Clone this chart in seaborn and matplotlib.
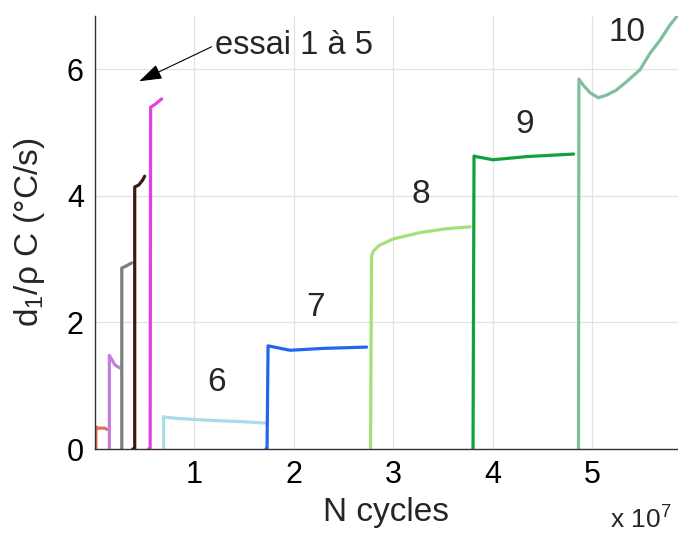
import matplotlib
matplotlib.use("Agg")
import matplotlib.pyplot as plt
import seaborn as sns
import pandas as pd

sns.set_theme(style="white")
plt.rcParams['font.family'] = ['Liberation Sans', 'DejaVu Sans']
plt.rcParams['mathtext.fontset'] = 'custom'
plt.rcParams['mathtext.rm'] = 'Liberation Sans'
plt.rcParams['mathtext.it'] = 'Liberation Sans'

# N cycles (x 1e7) and d1/rhoC (°C/s) per trial
x1 = [0.01, 0.01, 0.03, 0.10, 0.12]
y1 = [0.00, 0.35, 0.33, 0.33, 0.31]
x2 = [0.145, 0.145, 0.16, 0.20, 0.25]
y2 = [0.00, 1.48, 1.44, 1.33, 1.28]
x3 = [0.27, 0.27, 0.30, 0.37]
y3 = [0.00, 2.86, 2.88, 2.94]
x4 = [0.38, 0.40, 0.40, 0.44, 0.48, 0.50]
y4 = [0.00, 0.00, 4.14, 4.17, 4.25, 4.31]
x5 = [0.54, 0.555, 0.56, 0.60, 0.67]
y5 = [0.00, 0.00, 5.40, 5.44, 5.53]
x6 = [0.69, 0.69, 0.72, 0.85, 1.20, 1.50, 1.71]
y6 = [0.00, 0.51, 0.50, 0.48, 0.45, 0.43, 0.41]
x7 = [1.72, 1.73, 1.74, 1.96, 2.30, 2.73]
y7 = [0.00, 0.00, 1.63, 1.56, 1.59, 1.61]
x8 = [2.77, 2.78, 2.80, 2.86, 3.00, 3.27, 3.53, 3.77]
y8 = [0.00, 3.05, 3.13, 3.22, 3.32, 3.42, 3.48, 3.51]
x9 = [3.80, 3.81, 3.83, 4.00, 4.34, 4.81]
y9 = [0.00, 4.63, 4.62, 4.57, 4.62, 4.66]
x10 = [4.86, 4.864, 4.907, 4.975, 5.058, 5.14, 5.24, 5.34, 5.477, 5.578, 5.68, 5.78, 5.846]
y10 = [0.00, 5.845, 5.75, 5.63, 5.55, 5.59, 5.67, 5.80, 5.99, 6.25, 6.46, 6.70, 6.83]

trial_x = [x1, x2, x3, x4, x5, x6, x7, x8, x9, x10]
trial_y = [y1, y2, y3, y4, y5, y6, y7, y8, y9, y10]
trial_names = ["1", "2", "3", "4", "5", "6", "7", "8", "9", "10"]
colors = ["#e0705a", "#c47fdc", "#7a817d", "#3d1812", "#e63ee0",
          "#a8dcea", "#2266ee", "#a6e07a", "#12a03c", "#7fbf9a"]

label_txt = ["6", "7", "8", "9", "10"]
label_x = [1.223, 2.22, 3.276, 4.32, 5.343]
label_y = [1.054, 2.24, 4.02, 5.13, 6.58]

rows = []
for name, xs, ys in zip(trial_names, trial_x, trial_y):
    for i, (a, b) in enumerate(zip(xs, ys)):
        rows.append({"essai": name, "N": a, "v": b, "order": i})
df = pd.DataFrame(rows)

fig = plt.figure(figsize=(6.78, 5.36), dpi=100)
ax = fig.add_axes([0.140, 0.1623, 0.860, 0.8077])

sns.lineplot(data=df, x="N", y="v", hue="essai", palette=dict(zip(trial_names, colors)),
             sort=False, estimator=None, legend=False, linewidth=2.3, ax=ax)

ax.set_xlim(0, 5.86)
ax.set_ylim(0, 6.84)
ax.set_xticks([1, 2, 3, 4, 5])
ax.set_yticks([0, 2, 4, 6])
ax.grid(True, color="#e2e2e2", linewidth=0.9)
ax.set_axisbelow(True)
for s in ["top", "right"]:
    ax.spines[s].set_visible(False)
for s in ["left", "bottom"]:
    ax.spines[s].set_color("#333333")
    ax.spines[s].set_linewidth(1.0)
ax.tick_params(axis="both", direction="in", length=4, width=0.8, color="#333333",
               labelsize=22, labelcolor="black", pad=8)

ax.set_xlabel("N cycles", fontsize=24, labelpad=5)
ax.set_ylabel(r"d$_1$/ρ C (°C/s)", fontsize=24, labelpad=14)

for t, lx, ly in zip(label_txt, label_x, label_y):
    ax.text(lx, ly, t, fontsize=24, ha="center", va="center")

ax.annotate("essai 1 à 5", xy=(0.445, 5.81), xytext=(1.206, 6.38),
            fontsize=23.5, ha="left", va="center",
            arrowprops=dict(arrowstyle="-|>,head_length=0.6,head_width=0.2",
                            color="black", lw=0.8, relpos=(0, 0.5),
                            shrinkA=0, shrinkB=0))

fig.text(0.900, 0.014, r"x 10$^7$", fontsize=19, ha="left", va="baseline")

fig.savefig("out.png", dpi=100)
